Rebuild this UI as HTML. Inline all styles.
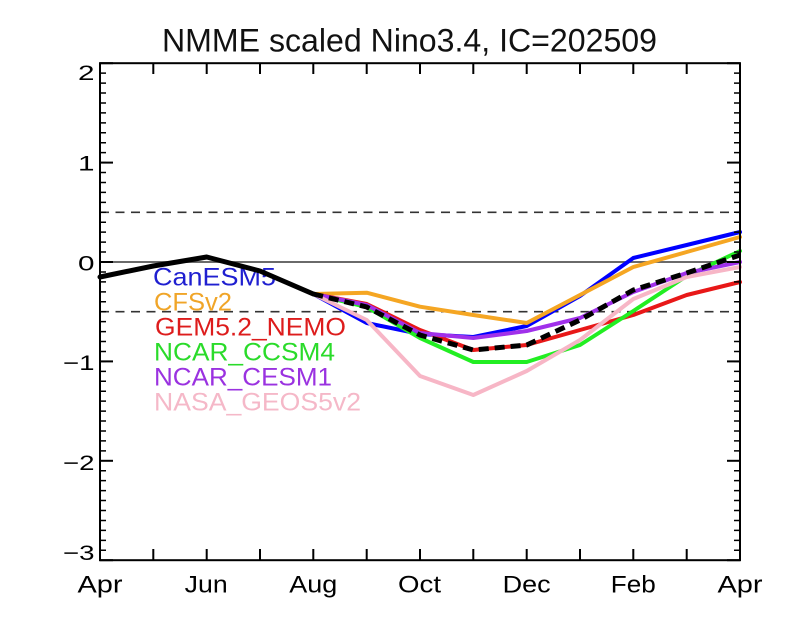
<!DOCTYPE html>
<html>
<head>
<meta charset="utf-8">
<style>
  html, body { margin:0; padding:0; background:#fff; }
  svg { display:block; }
  text { font-family: "Liberation Sans", "DejaVu Sans", sans-serif; }
</style>
</head>
<body>
<svg width="800" height="640" viewBox="0 0 800 640" xmlns="http://www.w3.org/2000/svg">
  <rect x="0" y="0" width="800" height="640" fill="#fff"/>

  <!-- Title -->
  <text x="162" y="51.5" font-size="32" fill="#111" textLength="495" lengthAdjust="spacingAndGlyphs">NMME scaled Nino3.4, IC=202509</text>

  <!-- Reference lines -->
  <line x1="100" y1="212.3" x2="740" y2="212.3" stroke="#333" stroke-width="1.6" stroke-dasharray="9 6.5"/>
  <line x1="100" y1="311.7" x2="740" y2="311.7" stroke="#333" stroke-width="1.6" stroke-dasharray="9 6.5"/>
  <line x1="100" y1="262" x2="740" y2="262" stroke="#555" stroke-width="1.8"/>

  <!-- Legend text -->
  <g font-size="25">
    <text x="153" y="285.7" fill="#1f1fd0" textLength="123" lengthAdjust="spacingAndGlyphs">CanESM5</text>
    <text x="154" y="310.7" fill="#f0a528" textLength="78" lengthAdjust="spacingAndGlyphs">CFSv2</text>
    <text x="155" y="335.5" fill="#dd1c1c" textLength="191" lengthAdjust="spacingAndGlyphs">GEM5.2_NEMO</text>
    <text x="154" y="360.5" fill="#2adb2a" textLength="181" lengthAdjust="spacingAndGlyphs">NCAR_CCSM4</text>
    <text x="154" y="385.5" fill="#9a32e0" textLength="178" lengthAdjust="spacingAndGlyphs">NCAR_CESM1</text>
    <text x="154" y="410.5" fill="#f5b8c8" textLength="207" lengthAdjust="spacingAndGlyphs">NASA_GEOS5v2</text>
  </g>

  <!-- Data series -->
  <g fill="none" stroke-width="4" stroke-linejoin="round" stroke-linecap="round">
    <polyline stroke="#0000ff" points="313.3,294 366.7,323 420,334 473.3,337 526.7,326 580,296 633.3,258 686.7,245 740,232"/>
    <polyline stroke="#f5a623" points="313.3,294 366.7,292.7 420,306.7 473.3,315 526.7,323 580,295 633.3,267 686.7,252 740,237"/>
    <polyline stroke="#e81818" points="313.3,294 366.7,304 420,330 473.3,350 526.7,345 580,330 633.3,315 686.7,295 740,282"/>
    <polyline stroke="#22ee22" points="313.3,294 366.7,307 420,338 473.3,362 526.7,362 580,345 633.3,311 686.7,276 740,251"/>
    <polyline stroke="#a030ea" points="313.3,294 366.7,305 420,333 473.3,338 526.7,331 580,318 633.3,292 686.7,273 740,262"/>
    <polyline stroke="#f7b6c6" points="313.3,294 366.7,320 420,376 473.3,395 526.7,371 580,340 633.3,299 686.7,277 740,267"/>
  </g>
  <!-- Ensemble mean dashed -->
  <polyline fill="none" stroke="#000" stroke-width="5" stroke-dasharray="10 6" points="313.3,294 366.7,307 420,335 473.3,350 526.7,345 580,320 633.3,290 686.7,273 740,255"/>
  <!-- Observed -->
  <polyline fill="none" stroke="#000" stroke-width="5" stroke-linejoin="round" stroke-linecap="round" points="100,277 153.3,266 206.7,257 260,271 313.3,294"/>

  <!-- Axes frame -->
  <rect x="100" y="63.2" width="640" height="497" fill="none" stroke="#000" stroke-width="2"/>

  <!-- Y minor ticks (left and right) -->
  <line x1="103" y1="62.45" x2="103" y2="561" stroke="#000" stroke-width="6" stroke-dasharray="1.5 8.44"/>
  <line x1="737" y1="62.45" x2="737" y2="561" stroke="#000" stroke-width="6" stroke-dasharray="1.5 8.44"/>

  <!-- Y major ticks -->
  <g stroke="#000" stroke-width="2">
    <line x1="100" y1="63.2" x2="113" y2="63.2"/>
    <line x1="100" y1="162.6" x2="113" y2="162.6"/>
    <line x1="100" y1="262" x2="113" y2="262"/>
    <line x1="100" y1="361.4" x2="113" y2="361.4"/>
    <line x1="100" y1="460.8" x2="113" y2="460.8"/>
    <line x1="100" y1="560.2" x2="113" y2="560.2"/>
    <line x1="727" y1="63.2" x2="740" y2="63.2"/>
    <line x1="727" y1="162.6" x2="740" y2="162.6"/>
    <line x1="727" y1="262" x2="740" y2="262"/>
    <line x1="727" y1="361.4" x2="740" y2="361.4"/>
    <line x1="727" y1="460.8" x2="740" y2="460.8"/>
    <line x1="727" y1="560.2" x2="740" y2="560.2"/>
  </g>

  <!-- X ticks (monthly, top and bottom) -->
  <g stroke="#000" stroke-width="2">
    <line x1="153.3" y1="560" x2="153.3" y2="549"/><line x1="153.3" y1="63" x2="153.3" y2="74"/>
    <line x1="206.7" y1="560" x2="206.7" y2="549"/><line x1="206.7" y1="63" x2="206.7" y2="74"/>
    <line x1="260" y1="560" x2="260" y2="549"/><line x1="260" y1="63" x2="260" y2="74"/>
    <line x1="313.3" y1="560" x2="313.3" y2="549"/><line x1="313.3" y1="63" x2="313.3" y2="74"/>
    <line x1="366.7" y1="560" x2="366.7" y2="549"/><line x1="366.7" y1="63" x2="366.7" y2="74"/>
    <line x1="420" y1="560" x2="420" y2="549"/><line x1="420" y1="63" x2="420" y2="74"/>
    <line x1="473.3" y1="560" x2="473.3" y2="549"/><line x1="473.3" y1="63" x2="473.3" y2="74"/>
    <line x1="526.7" y1="560" x2="526.7" y2="549"/><line x1="526.7" y1="63" x2="526.7" y2="74"/>
    <line x1="580" y1="560" x2="580" y2="549"/><line x1="580" y1="63" x2="580" y2="74"/>
    <line x1="633.3" y1="560" x2="633.3" y2="549"/><line x1="633.3" y1="63" x2="633.3" y2="74"/>
    <line x1="686.7" y1="560" x2="686.7" y2="549"/><line x1="686.7" y1="63" x2="686.7" y2="74"/>
  </g>

  <!-- Y labels -->
  <g font-size="21" fill="#000" text-anchor="end">
    <text x="94.5" y="80" textLength="16.5" lengthAdjust="spacingAndGlyphs">2</text>
    <text x="94.5" y="170.5" textLength="16.5" lengthAdjust="spacingAndGlyphs">1</text>
    <text x="94.5" y="270.7" textLength="16.5" lengthAdjust="spacingAndGlyphs">0</text>
    <text x="94.5" y="370" textLength="31.5" lengthAdjust="spacingAndGlyphs">−1</text>
    <text x="94.5" y="470" textLength="31.5" lengthAdjust="spacingAndGlyphs">−2</text>
    <text x="94.5" y="560" textLength="31.5" lengthAdjust="spacingAndGlyphs">−3</text>
  </g>

  <!-- X labels -->
  <g font-size="24" fill="#000" text-anchor="middle">
    <text x="100" y="592.5" textLength="45" lengthAdjust="spacingAndGlyphs">Apr</text>
    <text x="206.2" y="592.5" textLength="43" lengthAdjust="spacingAndGlyphs">Jun</text>
    <text x="313.3" y="592.5" textLength="48" lengthAdjust="spacingAndGlyphs">Aug</text>
    <text x="419.5" y="592.5" textLength="43" lengthAdjust="spacingAndGlyphs">Oct</text>
    <text x="526.7" y="592.5" textLength="48" lengthAdjust="spacingAndGlyphs">Dec</text>
    <text x="633.3" y="592.5" textLength="45" lengthAdjust="spacingAndGlyphs">Feb</text>
    <text x="740" y="592.5" textLength="45" lengthAdjust="spacingAndGlyphs">Apr</text>
  </g>
</svg>
</body>
</html>
